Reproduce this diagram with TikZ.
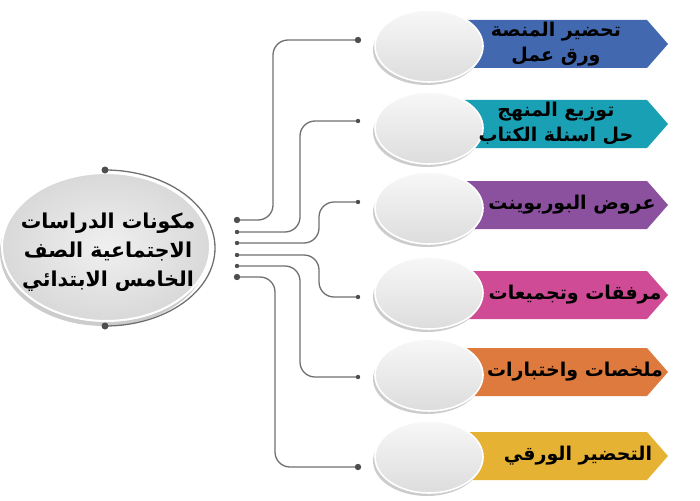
\documentclass[tikz,border=0pt]{standalone}
\usepackage{fontspec}
\TeXXeTstate=1
\newfontfamily\arabicfont[Script=Arabic]{DejaVu Sans Bold}
\usetikzlibrary{calc,shapes.geometric}
\definecolor{cblue}{HTML}{4268B0}
\definecolor{cteal}{HTML}{1AA0B4}
\definecolor{cpurple}{HTML}{8B509E}
\definecolor{cpink}{HTML}{CF4B96}
\definecolor{corange}{HTML}{DE7A3D}
\definecolor{cgold}{HTML}{E6B234}
\definecolor{cline}{HTML}{707070}
\begin{document}
\begin{tikzpicture}[x=1pt,y=-1pt,
  conn/.style={draw=cline, line width=1.3pt, rounded corners=15pt},
  dotbig/.style={fill=cline!70!black},
  oval/.style={ellipse, minimum width=108pt, minimum height=72pt, draw=white, line width=1.6pt, top color=gray!6, bottom color=gray!27},
  bigoval/.style={ellipse, minimum width=208pt, minimum height=148pt, draw=white, line width=2pt, inner color=gray!12, outer color=gray!30},
  lbl/.style={font=\arabicfont\fontsize{19}{25}\selectfont, text=black, align=center, inner sep=0pt},
  biglbl/.style={font=\arabicfont\fontsize{20.5}{29}\selectfont, text=black, align=center, inner sep=0pt}
]
\useasboundingbox (0,0) rectangle (700,500);

% ---- left big oval ----
\fill[gray!40] (104,252) ellipse (104 and 74);
\node[bigoval] (main) at (106,247) {};
\coordinate (top) at (105,170);
\coordinate (bot) at (105,326);
\draw[draw=cline, line width=1.3pt] (top) arc[start angle=-90, end angle=90, x radius=110, y radius=78];
\fill[dotbig] (top) circle (3.5);
\fill[dotbig] (bot) circle (3.5);
\node[biglbl] (mainlbl) at (108,252) {\beginR مكونات الدراسات\endR\\\beginR الاجتماعية الصف\endR\\\beginR الخامس الابتدائي\endR};

% ---- banners ----
\foreach \cy/\col in {44/cblue, 124/cteal, 205/cpurple, 295/cpink, 372/corange, 456/cgold}{
  \fill[\col] (460,\cy-24) -- (647,\cy-24) -- (668,\cy) -- (647,\cy+24) -- (460,\cy+24) -- cycle;
}

% ---- small ovals ----
\foreach \cy [count=\i] in {46,128,208,293,375,457}{
  \fill[gray!40] (427,\cy+4) ellipse (54 and 35);
  \node[oval] (o\i) at (429,\cy) {};
}

% ---- labels ----
\node[lbl] (t1) at (556,44) {\beginR تحضير المنصة\endR\\\beginR ورق عمل\endR};
\node[lbl] (t2) at (556,124) {\beginR توزيع المنهج\endR\\\beginR حل اسنلة الكتاب\endR};
\node[lbl] (t3) at (572,205) {\beginR عروض البوربوينت\endR};
\node[lbl] (t4) at (575,295) {\beginR مرفقات وتجميعات\endR};
\node[lbl] (t5) at (575,372) {\beginR ملخصات واختبارات\endR};
\node[lbl] (t6) at (578,456) {\beginR التحضير الورقي\endR};

% ---- connectors ----
\coordinate (L1) at (237,220); \coordinate (R1) at (358,40);  \coordinate (V1) at (273,40);
\coordinate (L2) at (237,232); \coordinate (R2) at (358,121); \coordinate (V2) at (300,121);
\coordinate (L3) at (237,243); \coordinate (R3) at (358,202); \coordinate (V3) at (319,202);
\coordinate (L4) at (237,255); \coordinate (R4) at (358,297); \coordinate (V4) at (319,297);
\coordinate (L5) at (237,266); \coordinate (R5) at (358,377); \coordinate (V5) at (300,377);
\coordinate (L6) at (237,277); \coordinate (R6) at (358,467); \coordinate (V6) at (275,467);
\foreach \i in {1,...,6}{
  \draw[conn] (L\i) -| (V\i) -- (R\i);
}
\foreach \i/\r in {1/3.2,2/2.2,3/2.2,4/2.2,5/2.2,6/3.2}{
  \fill[dotbig] (L\i) circle (\r);
}
\foreach \i/\r in {1/3.2,2/2.2,3/2.2,4/2.2,5/2.2,6/3.2}{
  \fill[dotbig] (R\i) circle (\r);
}
\end{tikzpicture}
\end{document}
